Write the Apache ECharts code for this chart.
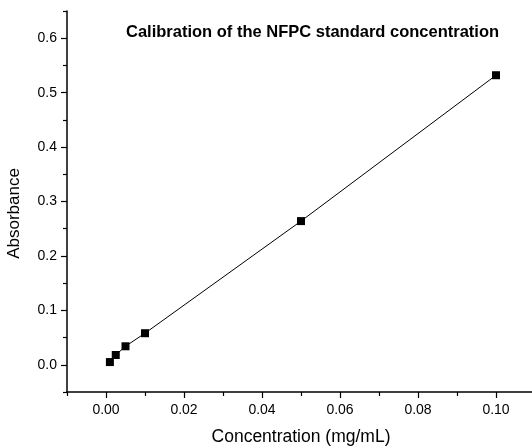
<!DOCTYPE html>
<html>
<head>
<meta charset="utf-8">
<script src="https://cdn.jsdelivr.net/npm/echarts@6/dist/echarts.min.js"></script>
<style>html,body{margin:0;padding:0;background:#fff;}#c{width:532px;height:446px;}</style>
</head>
<body>
<div id="c"></div>
<script>
var concentration = [0.001, 0.0025, 0.005, 0.01, 0.05, 0.10];
var absorbance = [0.005, 0.018, 0.034, 0.058, 0.264, 0.532];
var xMajorTicks = [0, 0.02, 0.04, 0.06, 0.08, 0.10];
var xMinorTicks = [-0.01, 0.01, 0.03, 0.05, 0.07, 0.09];
var yMajorTicks = [0, 0.1, 0.2, 0.3, 0.4, 0.5, 0.6];
var yMinorTicks = [-0.05, 0.05, 0.15, 0.25, 0.35, 0.45, 0.55, 0.65];
var titleText = 'Calibration of the NFPC standard concentration';
var xName = 'Concentration (mg/mL)';
var yName = 'Absorbance';

var FONT = '"Liberation Sans", Arial, sans-serif';
var points = concentration.map(function (x, i) { return [x, absorbance[i]]; });
var chart = echarts.init(document.getElementById('c'), null, {renderer: 'canvas'});
chart.setOption({
  backgroundColor: '#ffffff',
  animation: false,
  title: {
    text: titleText, left: 126, top: 24, padding: 0,
    textStyle: {fontFamily: FONT, fontSize: 16.5, fontWeight: 'bold', color: '#000'}
  },
  grid: {left: 67, top: 11, right: -3, bottom: 54, containLabel: false, outerBoundsMode: 'none'},
  xAxis: [{
    type: 'value', min: -0.01, max: 0.11,
    name: xName, nameLocation: 'middle', nameGap: 36,
    nameTextStyle: {fontFamily: FONT, fontSize: 17.5, color: '#000'},
    axisLine: {show: true, onZero: false, lineStyle: {color: '#000', width: 1.5}},
    axisTick: {show: true, customValues: xMajorTicks, length: 6, lineStyle: {color: '#000', width: 1.2}},
    axisLabel: {customValues: xMajorTicks, margin: 11, fontFamily: FONT, fontSize: 14, color: '#000',
      formatter: function (v) { return v.toFixed(2); }},
    splitLine: {show: false}
  }, {
    type: 'value', min: -0.01, max: 0.11, position: 'bottom',
    axisLine: {show: false, onZero: false},
    axisTick: {show: true, customValues: xMinorTicks, length: 4, lineStyle: {color: '#000', width: 1.2}},
    axisLabel: {show: false},
    splitLine: {show: false}
  }],
  yAxis: [{
    type: 'value', min: -0.05, max: 0.65,
    name: yName, nameLocation: 'middle', nameGap: 44,
    nameTextStyle: {fontFamily: FONT, fontSize: 17, color: '#000', padding: [0, 24, 0, 0]},
    axisLine: {show: true, onZero: false, lineStyle: {color: '#000', width: 1.5}},
    axisTick: {show: true, customValues: yMajorTicks, length: 6, lineStyle: {color: '#000', width: 1.2}},
    axisLabel: {customValues: yMajorTicks, margin: 10, fontFamily: FONT, fontSize: 14, color: '#000',
      formatter: function (v) { return v.toFixed(1); }},
    splitLine: {show: false}
  }, {
    type: 'value', min: -0.05, max: 0.65, position: 'left',
    axisLine: {show: false, onZero: false},
    axisTick: {show: true, customValues: yMinorTicks, length: 4, lineStyle: {color: '#000', width: 1.2}},
    axisLabel: {show: false},
    splitLine: {show: false}
  }],
  series: [{
    type: 'line', xAxisIndex: 0, yAxisIndex: 0,
    data: points,
    symbol: 'rect', symbolSize: 8,
    itemStyle: {color: '#000'},
    lineStyle: {color: '#000', width: 1}
  }]
});
</script>
</body>
</html>
